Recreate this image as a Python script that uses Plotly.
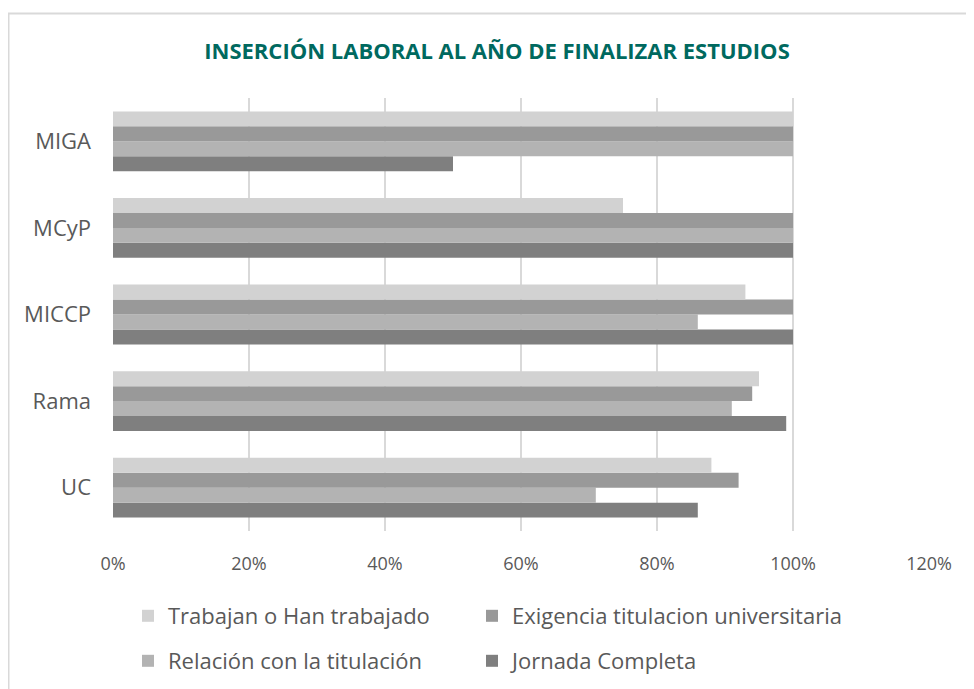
import plotly.graph_objects as go

categories = ["UC", "Rama", "MICCP", "MCyP", "MIGA"]
trabajan = [0.88, 0.95, 0.93, 0.75, 1.00]
exigencia = [0.92, 0.94, 1.00, 1.00, 1.00]
relacion = [0.71, 0.91, 0.86, 1.00, 1.00]
jornada = [0.86, 0.99, 1.00, 1.00, 0.50]
x_ticks = [0, 0.2, 0.4, 0.6, 0.8, 1.0, 1.2]

# page offset of the figure inside the html body
OFF = 8
W, H = 974 - OFF, 689 - OFF
L, R, T, B = 113 - OFF, 45, 98 - OFF, 158
pw, ph = W - L - R, H - T - B


def px(x_page):
    return (x_page - OFF - L) / pw


def py(y_page):
    return (H - B - (y_page - OFF)) / ph


def cy(y_page):
    return 1 - (y_page - OFF) / H


# (name, values, colour, legend id, legend text x on page, legend y on page)
series = [
    ("Jornada Completa", jornada, "#7f7f7f", "legend4", 512, 661),
    ("Relación con la titulación", relacion, "#b3b3b3", "legend3", 168, 661),
    ("Exigencia titulacion universitaria", exigencia, "#999999", "legend2", 512, 616),
    ("Trabajan o Han trabajado", trabajan, "#d2d2d2", "legend", 168, 616),
]

FONT = "Open Sans"
TXT = "#595959"
fig = go.Figure()
legends = {}
for name, vals, color, lg, lx, ly in series:
    fig.add_trace(go.Bar(
        y=categories, x=vals, name=name, orientation="h",
        marker=dict(color=color, line=dict(width=0)),
        legend=lg, showlegend=True,
    ))
    legends[lg] = dict(
        visible=True,
        orientation="h", x=px(lx - 40), xanchor="left",
        yref="container", y=cy(ly), yanchor="middle",
        font=dict(family=FONT, size=22, color=TXT),
        bgcolor="rgba(0,0,0,0)",
    )

fig.update_layout(
    width=W, height=H,
    showlegend=True,
    margin=dict(l=L, r=R, t=T, b=B, autoexpand=False),
    paper_bgcolor="white", plot_bgcolor="white",
    barmode="group", bargap=0.31, bargroupgap=0,
    font=dict(family=FONT, size=16, color=TXT),
    title=dict(
        text="<b>INSERCIÓN LABORAL AL AÑO DE FINALIZAR ESTUDIOS</b>",
        x=px(497), xref="paper", xanchor="center",
        y=cy(51), yanchor="middle",
        font=dict(family=FONT, size=22, color="#00695f"),
    ),
    xaxis=dict(
        range=[0, 1.2], tickvals=x_ticks, tickformat=".0%",
        showgrid=True, gridcolor="#d9d9d9", gridwidth=2,
        zeroline=False, showline=False,
        ticks="", ticklabelstandoff=20,
        tickfont=dict(family=FONT, size=18, color=TXT),
        fixedrange=True,
    ),
    yaxis=dict(
        categoryorder="array", categoryarray=categories,
        showgrid=False, zeroline=False, showline=False,
        ticks="", ticklabelstandoff=21,
        tickfont=dict(family=FONT, size=22, color=TXT),
    ),
    shapes=[dict(
        type="rect", xref="paper", yref="paper",
        x0=px(8.5), x1=px(973), y0=py(13.5), y1=py(720),
        line=dict(color="#d9d9d9", width=2), fillcolor="rgba(0,0,0,0)",
        layer="below",
    )],
    **legends,
)

fig.write_html("out.html")
